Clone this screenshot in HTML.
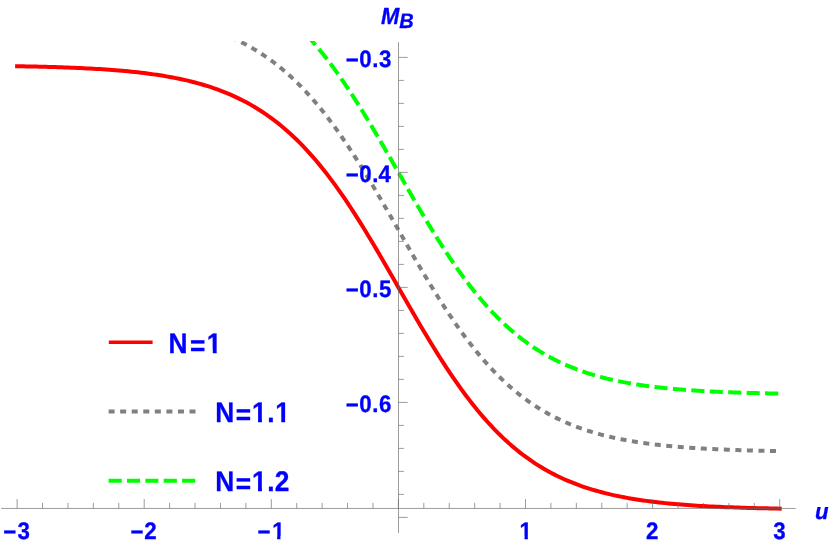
<!DOCTYPE html>
<html><head><meta charset="utf-8"><title>M_B vs u</title>
<style>
html,body{margin:0;padding:0;background:#fff;}
svg{display:block;}
text{font-family:"Liberation Sans",Arial,Helvetica,sans-serif;font-weight:bold;fill:#0000ff;stroke:#0000ff;stroke-width:0.3px;text-rendering:geometricPrecision;font-kerning:none;}
.i{font-style:italic;}
</style></head><body>
<svg width="830" height="545" viewBox="0 0 830 545">
<rect width="830" height="545" fill="#fff"/>
<defs><clipPath id="c"><rect x="1.2" y="41" width="794.6" height="492"/></clipPath>
<clipPath id="k1"><path clip-rule="evenodd" d="M-50 -60 H900 V60 H-50 Z M271.64 -2.83 H277.14 V1.5 H271.64 Z M280.41 -2.83 H285.34 V1.5 H280.41 Z"/></clipPath>
<clipPath id="k2"><path clip-rule="evenodd" d="M-50 -60 H900 V60 H-50 Z M519.05 -2.83 H524.55 V1.5 H519.05 Z M527.82 -2.83 H532.75 V1.5 H527.82 Z"/></clipPath>
<clipPath id="k3"><path clip-rule="evenodd" d="M-50 -60 H900 V60 H-50 Z M206.36 -3.23 H212.80 V1.5 H206.36 Z M216.62 -3.23 H222.29 V1.5 H216.62 Z"/></clipPath>
<clipPath id="k4"><path clip-rule="evenodd" d="M-50 -60 H900 V60 H-50 Z M251.62 -3.23 H258.06 V1.5 H251.62 Z M261.88 -3.23 H267.55 V1.5 H261.88 Z M274.87 -3.23 H281.31 V1.5 H274.87 Z M285.13 -3.23 H290.80 V1.5 H285.13 Z"/></clipPath>
<clipPath id="k5"><path clip-rule="evenodd" d="M-50 -60 H900 V60 H-50 Z M251.62 -3.23 H258.06 V1.5 H251.62 Z M261.88 -3.23 H267.55 V1.5 H261.88 Z"/></clipPath>
</defs>

<g clip-path="url(#c)" fill="none" stroke-width="4">
<path d="M17.10 66.20 L20.28 66.26 L23.45 66.32 L26.63 66.38 L29.81 66.45 L32.99 66.52 L36.16 66.59 L39.34 66.66 L42.52 66.74 L45.70 66.83 L48.88 66.91 L52.05 67.01 L55.23 67.10 L58.41 67.21 L61.58 67.31 L64.76 67.43 L67.94 67.54 L71.12 67.67 L74.30 67.80 L77.47 67.94 L80.65 68.08 L83.83 68.23 L87.00 68.39 L90.18 68.56 L93.36 68.73 L96.54 68.92 L99.71 69.11 L102.89 69.32 L106.07 69.53 L109.25 69.75 L112.43 69.99 L115.60 70.24 L118.78 70.50 L121.96 70.77 L125.13 71.06 L128.31 71.36 L131.49 71.67 L134.67 72.00 L137.85 72.35 L141.02 72.72 L144.20 73.10 L147.38 73.50 L150.56 73.93 L153.73 74.37 L156.91 74.83 L160.09 75.32 L163.26 75.83 L166.44 76.37 L169.62 76.93 L172.80 77.52 L175.97 78.14 L179.15 78.78 L182.33 79.46 L185.51 80.17 L188.69 80.92 L191.86 81.70 L195.04 82.52 L198.22 83.37 L201.39 84.27 L204.57 85.21 L207.75 86.19 L210.93 87.22 L214.10 88.29 L217.28 89.42 L220.46 90.59 L223.64 91.82 L226.81 93.10 L229.99 94.44 L233.17 95.84 L236.35 97.31 L239.52 98.83 L242.70 100.42 L245.88 102.08 L249.06 103.81 L252.23 105.62 L255.41 107.50 L258.59 109.45 L261.77 111.49 L264.94 113.61 L268.12 115.81 L271.30 118.10 L274.48 120.48 L277.65 122.95 L280.83 125.51 L284.01 128.17 L287.19 130.93 L290.36 133.78 L293.54 136.73 L296.72 139.79 L299.90 142.95 L303.07 146.21 L306.25 149.58 L309.43 153.05 L312.61 156.63 L315.78 160.32 L318.96 164.12 L322.14 168.02 L325.32 172.02 L328.50 176.14 L331.67 180.35 L334.85 184.67 L338.03 189.09 L341.20 193.61 L344.38 198.23 L347.56 202.94 L350.74 207.74 L353.91 212.63 L357.09 217.59 L360.27 222.64 L363.45 227.76 L366.62 232.96 L369.80 238.21 L372.98 243.52 L376.16 248.89 L379.33 254.30 L382.51 259.76 L385.69 265.24 L388.87 270.76 L392.05 276.29 L395.22 281.84 L398.40 287.40 L401.58 292.96 L404.75 298.51 L407.93 304.04 L411.11 309.56 L414.29 315.04 L417.46 320.50 L420.64 325.91 L423.82 331.28 L427.00 336.59 L430.17 341.84 L433.35 347.04 L436.53 352.16 L439.71 357.21 L442.88 362.17 L446.06 367.06 L449.24 371.86 L452.42 376.57 L455.60 381.19 L458.77 385.71 L461.95 390.13 L465.13 394.45 L468.30 398.66 L471.48 402.78 L474.66 406.78 L477.84 410.68 L481.01 414.48 L484.19 418.17 L487.37 421.75 L490.55 425.22 L493.72 428.59 L496.90 431.85 L500.08 435.01 L503.26 438.07 L506.44 441.02 L509.61 443.87 L512.79 446.63 L515.97 449.29 L519.14 451.85 L522.32 454.32 L525.50 456.70 L528.68 458.99 L531.86 461.19 L535.03 463.31 L538.21 465.35 L541.39 467.30 L544.57 469.18 L547.74 470.99 L550.92 472.72 L554.10 474.38 L557.27 475.97 L560.45 477.49 L563.63 478.96 L566.81 480.36 L569.98 481.70 L573.16 482.98 L576.34 484.21 L579.52 485.38 L582.69 486.51 L585.87 487.58 L589.05 488.61 L592.23 489.59 L595.40 490.53 L598.58 491.43 L601.76 492.28 L604.94 493.10 L608.12 493.88 L611.29 494.63 L614.47 495.34 L617.65 496.02 L620.82 496.66 L624.00 497.28 L627.18 497.87 L630.36 498.43 L633.53 498.97 L636.71 499.48 L639.89 499.97 L643.07 500.43 L646.25 500.87 L649.42 501.30 L652.60 501.70 L655.78 502.08 L658.95 502.45 L662.13 502.80 L665.31 503.13 L668.49 503.44 L671.66 503.74 L674.84 504.03 L678.02 504.30 L681.20 504.56 L684.38 504.81 L687.55 505.05 L690.73 505.27 L693.91 505.48 L697.08 505.69 L700.26 505.88 L703.44 506.07 L706.62 506.24 L709.79 506.41 L712.97 506.57 L716.15 506.72 L719.33 506.86 L722.50 507.00 L725.68 507.13 L728.86 507.26 L732.04 507.37 L735.22 507.49 L738.39 507.59 L741.57 507.70 L744.75 507.79 L747.92 507.89 L751.10 507.97 L754.28 508.06 L757.46 508.14 L760.63 508.21 L763.81 508.28 L766.99 508.35 L770.17 508.42 L773.35 508.48 L776.52 508.54 L779.70 508.60" stroke="#ff0000" stroke-linecap="square"/>
<path d="M207.75 28.69 L209.18 29.15 L210.61 29.61 L212.04 30.09 L213.47 30.57 L214.90 31.07 L216.33 31.57 L217.76 32.09 L219.19 32.61 L220.62 33.15 L222.05 33.70 L223.48 34.26 L224.91 34.83 L226.34 35.41 L227.77 36.00 L229.20 36.60 L230.63 37.22 L232.06 37.85 L233.49 38.49 L234.92 39.14 L236.35 39.81 L237.78 40.48 L239.21 41.18 L240.64 41.88 L242.07 42.60 L243.50 43.33 L244.93 44.08 L246.36 44.84 L247.79 45.61 L249.22 46.40 L250.65 47.21 L252.08 48.03 L253.51 48.86 L254.94 49.71 L256.37 50.58 L257.80 51.46 L259.23 52.35 L260.66 53.27 L262.09 54.20 L263.52 55.14 L264.94 56.11 L266.37 57.09 L267.80 58.09 L269.23 59.10 L270.66 60.14 L272.09 61.19 L273.52 62.26 L274.95 63.34 L276.38 64.45 L277.81 65.58 L279.24 66.72 L280.67 67.88 L282.10 69.06 L283.53 70.27 L284.96 71.49 L286.39 72.73 L287.82 73.99 L289.25 75.27 L290.68 76.57 L292.11 77.89 L293.54 79.23 L294.97 80.59 L296.40 81.98 L297.83 83.38 L299.26 84.81 L300.69 86.25 L302.12 87.72 L303.55 89.21 L304.98 90.72 L306.41 92.25 L307.84 93.80 L309.27 95.38 L310.70 96.97 L312.13 98.59 L313.56 100.23 L314.99 101.89 L316.42 103.57 L317.85 105.27 L319.28 107.00 L320.71 108.75 L322.14 110.52 L323.57 112.31 L325.00 114.12 L326.43 115.95 L327.86 117.81 L329.29 119.68 L330.72 121.58 L332.15 123.50 L333.58 125.43 L335.01 127.39 L336.44 129.37 L337.87 131.37 L339.30 133.39 L340.73 135.43 L342.16 137.49 L343.59 139.57 L345.02 141.66 L346.45 143.78 L347.88 145.92 L349.31 148.07 L350.74 150.24 L352.17 152.43 L353.60 154.63 L355.03 156.86 L356.46 159.09 L357.89 161.35 L359.32 163.62 L360.75 165.91 L362.18 168.21 L363.61 170.52 L365.04 172.85 L366.47 175.19 L367.90 177.55 L369.33 179.92 L370.76 182.30 L372.19 184.69 L373.62 187.09 L375.05 189.51 L376.48 191.93 L377.91 194.36 L379.33 196.80 L380.76 199.25 L382.19 201.71 L383.62 204.17 L385.05 206.64 L386.48 209.12 L387.91 211.60 L389.34 214.09 L390.77 216.58 L392.20 219.07 L393.63 221.57 L395.06 224.07 L396.49 226.57 L397.92 229.07 L399.35 231.57 L400.78 234.07 L402.21 236.57 L403.64 239.06 L405.07 241.56 L406.50 244.05 L407.93 246.54 L409.36 249.03 L410.79 251.51 L412.22 253.98 L413.65 256.45 L415.08 258.91 L416.51 261.36 L417.94 263.81 L419.37 266.25 L420.80 268.68 L422.23 271.10 L423.66 273.51 L425.09 275.91 L426.52 278.30 L427.95 280.67 L429.38 283.04 L430.81 285.39 L432.24 287.73 L433.67 290.05 L435.10 292.36 L436.53 294.66 L437.96 296.94 L439.39 299.20 L440.82 301.45 L442.25 303.69 L443.68 305.90 L445.11 308.10 L446.54 310.29 L447.97 312.45 L449.40 314.60 L450.83 316.73 L452.26 318.84 L453.69 320.93 L455.12 323.00 L456.55 325.05 L457.98 327.08 L459.41 329.10 L460.84 331.09 L462.27 333.06 L463.70 335.01 L465.13 336.95 L466.56 338.86 L467.99 340.75 L469.42 342.61 L470.85 344.46 L472.28 346.29 L473.71 348.09 L475.14 349.88 L476.57 351.64 L478.00 353.38 L479.43 355.10 L480.86 356.79 L482.29 358.47 L483.72 360.12 L485.15 361.75 L486.58 363.36 L488.01 364.95 L489.44 366.52 L490.87 368.06 L492.30 369.59 L493.72 371.09 L495.15 372.57 L496.58 374.03 L498.01 375.47 L499.44 376.89 L500.87 378.29 L502.30 379.66 L503.73 381.02 L505.16 382.35 L506.59 383.67 L508.02 384.96 L509.45 386.23 L510.88 387.49 L512.31 388.72 L513.74 389.94 L515.17 391.13 L516.60 392.31 L518.03 393.46 L519.46 394.60 L520.89 395.72 L522.32 396.82 L523.75 397.90 L525.18 398.96 L526.61 400.01 L528.04 401.04 L529.47 402.05 L530.90 403.04 L532.33 404.01 L533.76 404.97 L535.19 405.91 L536.62 406.84 L538.05 407.75 L539.48 408.64 L540.91 409.52 L542.34 410.38 L543.77 411.22 L545.20 412.05 L546.63 412.86 L548.06 413.66 L549.49 414.45 L550.92 415.22 L552.35 415.97 L553.78 416.71 L555.21 417.44 L556.64 418.16 L558.07 418.86 L559.50 419.54 L560.93 420.22 L562.36 420.88 L563.79 421.53 L565.22 422.16 L566.65 422.79 L568.08 423.40 L569.51 424.00 L570.94 424.59 L572.37 425.17 L573.80 425.73 L575.23 426.29 L576.66 426.83 L578.09 427.36 L579.52 427.88 L580.95 428.40 L582.38 428.90 L583.81 429.39 L585.24 429.87 L586.67 430.34 L588.10 430.81 L589.53 431.26 L590.96 431.70 L592.39 432.14 L593.82 432.57 L595.25 432.98 L596.68 433.39 L598.11 433.79 L599.54 434.19 L600.97 434.57 L602.40 434.95 L603.83 435.32 L605.26 435.68 L606.69 436.03 L608.12 436.38 L609.54 436.72 L610.97 437.05 L612.40 437.38 L613.83 437.70 L615.26 438.01 L616.69 438.32 L618.12 438.61 L619.55 438.91 L620.98 439.19 L622.41 439.48 L623.84 439.75 L625.27 440.02 L626.70 440.28 L628.13 440.54 L629.56 440.79 L630.99 441.04 L632.42 441.28 L633.85 441.52 L635.28 441.75 L636.71 441.98 L638.14 442.20 L639.57 442.42 L641.00 442.63 L642.43 442.84 L643.86 443.04 L645.29 443.24 L646.72 443.44 L648.15 443.63 L649.58 443.82 L651.01 444.00 L652.44 444.18 L653.87 444.35 L655.30 444.53 L656.73 444.69 L658.16 444.86 L659.59 445.02 L661.02 445.18 L662.45 445.33 L663.88 445.48 L665.31 445.63 L666.74 445.77 L668.17 445.91 L669.60 446.05 L671.03 446.18 L672.46 446.32 L673.89 446.45 L675.32 446.57 L676.75 446.70 L678.18 446.82 L679.61 446.93 L681.04 447.05 L682.47 447.16 L683.90 447.27 L685.33 447.38 L686.76 447.49 L688.19 447.59 L689.62 447.69 L691.05 447.79 L692.48 447.89 L693.91 447.98 L695.34 448.08 L696.77 448.17 L698.20 448.26 L699.63 448.34 L701.06 448.43 L702.49 448.51 L703.92 448.59 L705.35 448.67 L706.78 448.75 L708.21 448.83 L709.64 448.90 L711.07 448.97 L712.50 449.04 L713.93 449.11 L715.36 449.18 L716.79 449.25 L718.22 449.31 L719.65 449.38 L721.08 449.44 L722.50 449.50 L723.93 449.56 L725.36 449.62 L726.79 449.68 L728.22 449.73 L729.65 449.79 L731.08 449.84 L732.51 449.89 L733.94 449.94 L735.37 449.99 L736.80 450.04 L738.23 450.09 L739.66 450.14 L741.09 450.18 L742.52 450.23 L743.95 450.27 L745.38 450.31 L746.81 450.35 L748.24 450.39 L749.67 450.43 L751.10 450.47 L752.53 450.51 L753.96 450.55 L755.39 450.59 L756.82 450.62 L758.25 450.66 L759.68 450.69 L761.11 450.72 L762.54 450.76 L763.97 450.79 L765.40 450.82 L766.83 450.85 L768.26 450.88 L769.69 450.91 L771.12 450.94 L772.55 450.97 L773.98 450.99 L775.41 451.02 L776.84 451.05 L778.27 451.07 L779.70 451.10" stroke="#808080" stroke-dasharray="6 5.545" stroke-dashoffset="9.95"/>
<path d="M271.30 3.10 L272.57 4.04 L273.84 5.00 L275.11 5.97 L276.38 6.95 L277.65 7.95 L278.93 8.96 L280.20 9.99 L281.47 11.04 L282.74 12.10 L284.01 13.17 L285.28 14.26 L286.55 15.37 L287.82 16.49 L289.09 17.63 L290.37 18.78 L291.64 19.95 L292.91 21.13 L294.18 22.34 L295.45 23.55 L296.72 24.79 L297.99 26.04 L299.26 27.31 L300.53 28.59 L301.80 29.89 L303.07 31.21 L304.35 32.54 L305.62 33.90 L306.89 35.26 L308.16 36.65 L309.43 38.05 L310.70 39.47 L311.97 40.91 L313.24 42.36 L314.51 43.83 L315.78 45.32 L317.06 46.83 L318.33 48.35 L319.60 49.89 L320.87 51.44 L322.14 53.02 L323.41 54.61 L324.68 56.21 L325.95 57.84 L327.22 59.48 L328.50 61.14 L329.77 62.81 L331.04 64.50 L332.31 66.21 L333.58 67.93 L334.85 69.67 L336.12 71.43 L337.39 73.20 L338.66 74.99 L339.93 76.79 L341.20 78.61 L342.48 80.45 L343.75 82.30 L345.02 84.16 L346.29 86.04 L347.56 87.94 L348.83 89.85 L350.10 91.77 L351.37 93.71 L352.64 95.66 L353.91 97.63 L355.19 99.60 L356.46 101.59 L357.73 103.60 L359.00 105.61 L360.27 107.64 L361.54 109.68 L362.81 111.73 L364.08 113.80 L365.35 115.87 L366.62 117.96 L367.90 120.05 L369.17 122.16 L370.44 124.27 L371.71 126.39 L372.98 128.52 L374.25 130.66 L375.52 132.81 L376.79 134.97 L378.06 137.13 L379.33 139.30 L380.61 141.48 L381.88 143.66 L383.15 145.85 L384.42 148.05 L385.69 150.24 L386.96 152.45 L388.23 154.65 L389.50 156.86 L390.77 159.08 L392.04 161.29 L393.32 163.51 L394.59 165.73 L395.86 167.95 L397.13 170.18 L398.40 172.40 L399.67 174.62 L400.94 176.85 L402.21 179.07 L403.48 181.29 L404.75 183.51 L406.03 185.72 L407.30 187.94 L408.57 190.15 L409.84 192.35 L411.11 194.56 L412.38 196.75 L413.65 198.95 L414.92 201.14 L416.19 203.32 L417.46 205.50 L418.74 207.67 L420.01 209.83 L421.28 211.99 L422.55 214.14 L423.82 216.28 L425.09 218.41 L426.36 220.53 L427.63 222.64 L428.90 224.75 L430.17 226.84 L431.45 228.93 L432.72 231.00 L433.99 233.07 L435.26 235.12 L436.53 237.16 L437.80 239.19 L439.07 241.20 L440.34 243.21 L441.61 245.20 L442.88 247.17 L444.16 249.14 L445.43 251.09 L446.70 253.03 L447.97 254.95 L449.24 256.86 L450.51 258.76 L451.78 260.64 L453.05 262.50 L454.32 264.35 L455.59 266.19 L456.87 268.01 L458.14 269.81 L459.41 271.60 L460.68 273.37 L461.95 275.13 L463.22 276.87 L464.49 278.59 L465.76 280.30 L467.03 281.99 L468.30 283.66 L469.58 285.32 L470.85 286.96 L472.12 288.59 L473.39 290.19 L474.66 291.78 L475.93 293.36 L477.20 294.91 L478.47 296.45 L479.74 297.97 L481.01 299.48 L482.29 300.97 L483.56 302.44 L484.83 303.89 L486.10 305.33 L487.37 306.75 L488.64 308.15 L489.91 309.54 L491.18 310.90 L492.45 312.26 L493.72 313.59 L495.00 314.91 L496.27 316.21 L497.54 317.49 L498.81 318.76 L500.08 320.01 L501.35 321.25 L502.62 322.46 L503.89 323.67 L505.16 324.85 L506.44 326.02 L507.71 327.17 L508.98 328.31 L510.25 329.43 L511.52 330.54 L512.79 331.63 L514.06 332.70 L515.33 333.76 L516.60 334.81 L517.87 335.84 L519.14 336.85 L520.42 337.85 L521.69 338.83 L522.96 339.80 L524.23 340.76 L525.50 341.70 L526.77 342.63 L528.04 343.54 L529.31 344.44 L530.58 345.32 L531.86 346.19 L533.13 347.05 L534.40 347.89 L535.67 348.72 L536.94 349.54 L538.21 350.35 L539.48 351.14 L540.75 351.92 L542.02 352.69 L543.29 353.44 L544.56 354.18 L545.84 354.91 L547.11 355.63 L548.38 356.34 L549.65 357.03 L550.92 357.72 L552.19 358.39 L553.46 359.05 L554.73 359.70 L556.00 360.34 L557.27 360.97 L558.55 361.59 L559.82 362.19 L561.09 362.79 L562.36 363.38 L563.63 363.96 L564.90 364.52 L566.17 365.08 L567.44 365.63 L568.71 366.17 L569.99 366.70 L571.26 367.22 L572.53 367.73 L573.80 368.23 L575.07 368.72 L576.34 369.21 L577.61 369.69 L578.88 370.15 L580.15 370.61 L581.42 371.06 L582.69 371.51 L583.97 371.94 L585.24 372.37 L586.51 372.79 L587.78 373.20 L589.05 373.61 L590.32 374.01 L591.59 374.40 L592.86 374.78 L594.13 375.16 L595.40 375.53 L596.68 375.89 L597.95 376.25 L599.22 376.60 L600.49 376.94 L601.76 377.28 L603.03 377.61 L604.30 377.94 L605.57 378.26 L606.84 378.57 L608.12 378.88 L609.39 379.18 L610.66 379.48 L611.93 379.77 L613.20 380.06 L614.47 380.34 L615.74 380.61 L617.01 380.88 L618.28 381.15 L619.55 381.41 L620.82 381.66 L622.10 381.91 L623.37 382.16 L624.64 382.40 L625.91 382.64 L627.18 382.87 L628.45 383.10 L629.72 383.32 L630.99 383.54 L632.26 383.76 L633.53 383.97 L634.81 384.18 L636.08 384.38 L637.35 384.58 L638.62 384.77 L639.89 384.97 L641.16 385.16 L642.43 385.34 L643.70 385.52 L644.97 385.70 L646.25 385.87 L647.52 386.05 L648.79 386.21 L650.06 386.38 L651.33 386.54 L652.60 386.70 L653.87 386.85 L655.14 387.01 L656.41 387.16 L657.68 387.30 L658.95 387.45 L660.23 387.59 L661.50 387.73 L662.77 387.86 L664.04 388.00 L665.31 388.13 L666.58 388.25 L667.85 388.38 L669.12 388.50 L670.39 388.62 L671.66 388.74 L672.94 388.86 L674.21 388.97 L675.48 389.09 L676.75 389.20 L678.02 389.30 L679.29 389.41 L680.56 389.51 L681.83 389.61 L683.10 389.71 L684.38 389.81 L685.65 389.91 L686.92 390.00 L688.19 390.09 L689.46 390.18 L690.73 390.27 L692.00 390.36 L693.27 390.44 L694.54 390.53 L695.81 390.61 L697.09 390.69 L698.36 390.77 L699.63 390.84 L700.90 390.92 L702.17 390.99 L703.44 391.07 L704.71 391.14 L705.98 391.21 L707.25 391.28 L708.52 391.34 L709.79 391.41 L711.07 391.47 L712.34 391.54 L713.61 391.60 L714.88 391.66 L716.15 391.72 L717.42 391.78 L718.69 391.84 L719.96 391.89 L721.23 391.95 L722.50 392.00 L723.78 392.05 L725.05 392.11 L726.32 392.16 L727.59 392.21 L728.86 392.26 L730.13 392.30 L731.40 392.35 L732.67 392.40 L733.94 392.44 L735.21 392.49 L736.49 392.53 L737.76 392.57 L739.03 392.61 L740.30 392.66 L741.57 392.70 L742.84 392.74 L744.11 392.77 L745.38 392.81 L746.65 392.85 L747.92 392.89 L749.20 392.92 L750.47 392.96 L751.74 392.99 L753.01 393.02 L754.28 393.06 L755.55 393.09 L756.82 393.12 L758.09 393.15 L759.36 393.18 L760.63 393.21 L761.91 393.24 L763.18 393.27 L764.45 393.30 L765.72 393.33 L766.99 393.35 L768.26 393.38 L769.53 393.41 L770.80 393.43 L772.07 393.46 L773.35 393.48 L774.62 393.50 L775.89 393.53 L777.16 393.55 L778.43 393.57 L779.70 393.60" stroke="#00ff00" stroke-dasharray="13.1 5.365" stroke-dashoffset="7.53"/>
</g>
<g stroke="#666666" stroke-width="0.65" fill="none">
<path d="M1.2 508.45 H795.8"/>
<path d="M398.50 42.1 V533"/>
<path d="M17.10 508.45 v-9.4M42.52 508.45 v-5.6M67.94 508.45 v-5.6M93.36 508.45 v-5.6M118.78 508.45 v-5.6M144.20 508.45 v-9.4M169.62 508.45 v-5.6M195.04 508.45 v-5.6M220.46 508.45 v-5.6M245.88 508.45 v-5.6M271.30 508.45 v-9.4M296.72 508.45 v-5.6M322.14 508.45 v-5.6M347.56 508.45 v-5.6M372.98 508.45 v-5.6M398.40 508.45 v-9.4M423.82 508.45 v-5.6M449.24 508.45 v-5.6M474.66 508.45 v-5.6M500.08 508.45 v-5.6M525.50 508.45 v-9.4M550.92 508.45 v-5.6M576.34 508.45 v-5.6M601.76 508.45 v-5.6M627.18 508.45 v-5.6M652.60 508.45 v-9.4M678.02 508.45 v-5.6M703.44 508.45 v-5.6M728.86 508.45 v-5.6M754.28 508.45 v-5.6M779.70 508.45 v-9.4"/>
<path d="M398.50 517.40 h9.2M398.50 494.40 h5.4M398.50 471.40 h5.4M398.50 448.40 h5.4M398.50 425.40 h5.4M398.50 402.40 h9.2M398.50 379.40 h5.4M398.50 356.40 h5.4M398.50 333.40 h5.4M398.50 310.40 h5.4M398.50 287.40 h9.2M398.50 264.40 h5.4M398.50 241.40 h5.4M398.50 218.40 h5.4M398.50 195.40 h5.4M398.50 172.40 h9.2M398.50 149.40 h5.4M398.50 126.40 h5.4M398.50 103.40 h5.4M398.50 80.40 h5.4M398.50 57.40 h9.2"/>
</g>
<text transform="matrix(1 0 0 1.07 0 539.00)" x="3.26 17.44" y="0" dy="0.935 -0.935" font-size="22.3">−3</text>
<text transform="matrix(1 0 0 1.07 0 539.00)" x="130.51 144.29" y="0" dy="0.935 -0.935" font-size="22.3">−2</text>
<text transform="matrix(1 0 0 1.07 0 539.00)" x="257.51 272.14" y="0" dy="0.935 -0.935" font-size="22.3" clip-path="url(#k1)">−1</text>
<text transform="matrix(1 0 0 1.07 0 539.00)" x="519.55" y="0" font-size="22.3" clip-path="url(#k2)">1</text>
<text transform="matrix(1 0 0 1.07 0 539.00)" x="646.10" y="0" font-size="22.3">2</text>
<text transform="matrix(1 0 0 1.07 0 539.00)" x="773.20" y="0" font-size="22.3">3</text>
<text transform="matrix(1 0 0 1.07 0 67.00)" x="345.78 359.35 372.30 379.05" y="0" dy="0.935 -0.935" font-size="22.3">−0.3</text>
<text transform="matrix(1 0 0 1.07 0 182.00)" x="345.78 359.35 372.30 378.55" y="0" dy="0.935 -0.935" font-size="22.3">−0.4</text>
<text transform="matrix(1 0 0 1.07 0 297.00)" x="345.78 359.35 372.30 379.05" y="0" dy="0.935 -0.935" font-size="22.3">−0.5</text>
<text transform="matrix(1 0 0 1.07 0 412.00)" x="345.78 359.35 372.30 379.05" y="0" dy="0.935 -0.935" font-size="22.3">−0.6</text>
<text class="i" transform="matrix(1 0 0 1.06 0 24.00)" x="380.98" y="0" font-size="22.0">M</text>
<text class="i" transform="matrix(1 0 0 1.045 0 28.00)" x="399.24" y="0" font-size="20.0">B</text>
<text class="i" transform="matrix(1 0 0 1.02 0 519.00)" x="814.96" y="0" font-size="22.2">u</text>
<path d="M108.8 342.2 H152.6" stroke="#ff0000" stroke-width="3.6" fill="none"/>
<path d="M108.6 411.4 H195.9" stroke="#808080" stroke-width="4" stroke-dasharray="6 5.56" fill="none"/>
<path d="M108.6 480.8 H195.9" stroke="#00ff00" stroke-width="4" stroke-dasharray="13.1 5.27" fill="none"/>
<text transform="matrix(1 0 0 1.075 0 353.00)" x="168.45 189.88 206.86" y="0" dy="0.000 1.860 -1.860" font-size="26.3" clip-path="url(#k3)">N=1</text>
<text transform="matrix(1 0 0 1.075 0 422.00)" x="215.36 235.85 252.12 267.25 275.37" y="0" dy="0.000 1.860 -1.860" font-size="26.3" clip-path="url(#k4)">N=1.1</text>
<text transform="matrix(1 0 0 1.075 0 491.00)" x="215.36 235.85 252.12 267.25 274.70" y="0" dy="0.000 1.860 -1.860" font-size="26.3" clip-path="url(#k5)">N=1.2</text>
</svg></body></html>
